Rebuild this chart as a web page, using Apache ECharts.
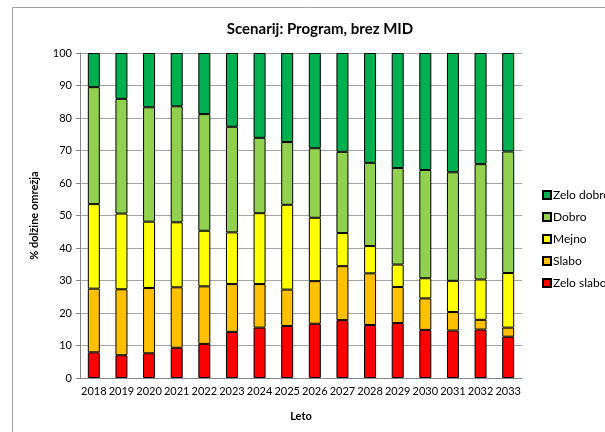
<!DOCTYPE html>
<html><head><meta charset="utf-8">
<script src="https://cdn.jsdelivr.net/npm/echarts@6/dist/echarts.min.js"></script>
<style>html,body{margin:0;padding:0;background:#fff}#c{width:605px;height:432px}</style>
</head><body><div id="c"></div>
<script>
const years = ['2018','2019','2020','2021','2022','2023','2024','2025','2026','2027','2028','2029','2030','2031','2032','2033'];
const zeloSlabo = [7.9,7.0,7.6,9.3,10.5,14.2,15.5,16.0,16.7,17.8,16.3,16.9,14.8,14.6,14.9,12.7];
const slabo     = [19.6,20.3,20.1,18.6,17.7,14.7,13.4,11.2,13.1,16.6,15.9,11.1,9.7,5.7,3.0,2.8];
const mejno     = [26.0,23.3,20.4,20.0,17.1,15.9,21.8,26.1,19.5,10.2,8.4,6.9,6.2,9.6,12.4,16.8];
const dobro     = [36.0,35.3,35.2,35.7,35.9,32.5,23.2,19.3,21.4,25.0,25.6,29.7,33.3,33.4,35.5,37.4];
const zeloDobro = [10.5,14.1,16.7,16.4,18.8,22.7,26.1,27.4,29.3,30.4,33.8,35.4,36.0,36.7,34.2,30.3];
const yTicks = [0,10,20,30,40,50,60,70,80,90,100];

const font = 'Lato, "Open Sans", sans-serif';
const chart = echarts.init(document.getElementById('c'));
function s(name, data, color){
  return {name, type:'bar', stack:'t', data, barWidth:12,
    itemStyle:{color, borderColor:'#000', borderWidth:1}};
}
chart.setOption({
  animation:false,
  title:{text:'Scenarij: Program, brez MID', left:315, top:17, textAlign:'center',
    textStyle:{fontFamily:font, fontSize:15, fontWeight:'bold', color:'#000'}},
  graphic:[{type:'rect', shape:{x:12.5,y:7.5,width:620,height:440}, style:{fill:'none', stroke:'#a0a0a0', lineWidth:1}}],
  grid:{left:80, right:83, top:53, bottom:54},
  legend:{orient:'vertical', left:537, top:184, itemGap:10, itemWidth:8, itemHeight:8, icon:'rect',
    data:['Zelo dobro','Dobro','Mejno','Slabo','Zelo slabo'],
    textStyle:{fontFamily:font, fontSize:12, color:'#000', padding:[0,0,0,-3]}},
  xAxis:{type:'category', data:years, name:'Leto', nameLocation:'middle', nameGap:33,
    nameTextStyle:{fontFamily:font, fontSize:11, fontWeight:'bold', color:'#000'},
    axisLine:{lineStyle:{color:'#868686'}}, axisTick:{length:4, lineStyle:{color:'#868686'}},
    axisLabel:{fontFamily:font, fontSize:11, color:'#000', margin:8, interval:0}},
  yAxis:{type:'value', min:0, max:100, interval:10, name:'% dolžine omrežja', nameLocation:'middle', nameGap:40,
    nameTextStyle:{fontFamily:font, fontSize:11, fontWeight:'bold', color:'#000'},
    axisLine:{show:true, lineStyle:{color:'#868686'}}, axisTick:{show:true, length:4, lineStyle:{color:'#868686'}},
    axisLabel:{fontFamily:font, fontSize:11, color:'#000', margin:8, formatter:v=>yTicks.includes(v)?String(v):''},
    splitLine:{lineStyle:{color:'#a6a6a6'}}},
  series:[
    s('Zelo slabo', zeloSlabo, '#FF0000'),
    s('Slabo', slabo, '#FFC000'),
    s('Mejno', mejno, '#FFFF00'),
    s('Dobro', dobro, '#92D050'),
    s('Zelo dobro', zeloDobro, '#00B050')
  ]
});
</script></body></html>
